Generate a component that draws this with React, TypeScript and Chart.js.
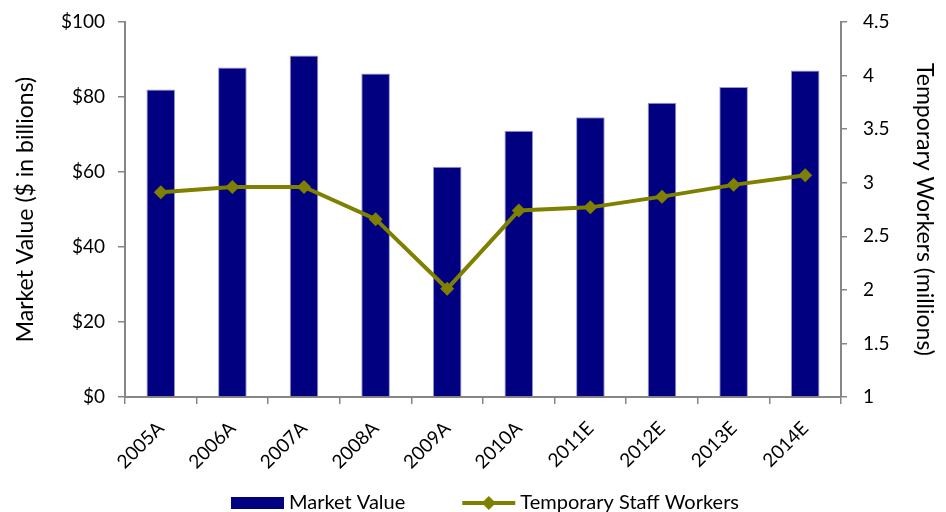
import React, { useEffect, useRef } from "react";
import { Chart, registerables } from "chart.js";

Chart.register(...registerables);

const categories = ["2005A", "2006A", "2007A", "2008A", "2009A", "2010A", "2011E", "2012E", "2013E", "2014E"];
const marketValue = [82.0, 87.9, 91.1, 86.3, 61.4, 71.0, 74.6, 78.5, 82.7, 87.1];
const tempWorkers = [2.91, 2.96, 2.96, 2.66, 2.01, 2.74, 2.77, 2.87, 2.98, 3.07];
const seriesNames = ["Market Value", "Temporary Staff Workers"];

const NAVY = "#000080";
const OLIVE = "#808000";
const AXIS = "#868686";
const FONT = "Lato, 'Open Sans', sans-serif";

const legendPlugin = {
  id: "customLegend",
  afterDraw(chart: any) {
    const ctx = chart.ctx as CanvasRenderingContext2D;
    ctx.save();
    ctx.font = `20px ${FONT}`;
    ctx.textBaseline = "middle";
    ctx.textAlign = "left";
    ctx.fillStyle = "#000";
    const w1 = ctx.measureText(seriesNames[0]).width;
    const w2 = ctx.measureText(seriesNames[1]).width;
    const iconW = 53;
    const gapIconText = 5;
    const gapItems = 57;
    const total = iconW + gapIconText + w1 + gapItems + iconW + gapIconText + w2;
    const cx = 485;
    const cy = 503;
    let x = cx - total / 2;
    ctx.fillStyle = NAVY;
    ctx.fillRect(x, cy - 6, iconW, 12);
    x += iconW + gapIconText;
    ctx.fillStyle = "#000";
    ctx.fillText(seriesNames[0], x, cy);
    x += w1 + gapItems;
    ctx.strokeStyle = OLIVE;
    ctx.lineWidth = 4;
    ctx.beginPath();
    ctx.moveTo(x, cy);
    ctx.lineTo(x + iconW, cy);
    ctx.stroke();
    ctx.fillStyle = OLIVE;
    const dx = x + iconW / 2;
    ctx.beginPath();
    ctx.moveTo(dx, cy - 7);
    ctx.lineTo(dx + 7, cy);
    ctx.lineTo(dx, cy + 7);
    ctx.lineTo(dx - 7, cy);
    ctx.closePath();
    ctx.fill();
    x += iconW + gapIconText;
    ctx.fillStyle = "#000";
    ctx.fillText(seriesNames[1], x, cy);
    ctx.restore();
  },
};

export default function App() {
  const ref = useRef<HTMLCanvasElement>(null);

  useEffect(() => {
    document.body.style.margin = "0";
    const chart = new Chart(ref.current!, {
      type: "bar",
      data: {
        labels: categories,
        datasets: [
          {
            type: "line",
            label: seriesNames[1],
            data: tempWorkers,
            yAxisID: "y1",
            borderColor: OLIVE,
            backgroundColor: OLIVE,
            borderWidth: 4,
            pointStyle: "rectRot",
            pointRadius: 7,
            pointBorderWidth: 0,
            pointBackgroundColor: OLIVE,
            tension: 0,
            order: 0,
          },
          {
            type: "bar",
            label: seriesNames[0],
            data: marketValue,
            yAxisID: "y",
            backgroundColor: NAVY,
            borderColor: "#9a9ad0",
            borderWidth: { top: 1, left: 1, right: 1, bottom: 0 },
            barPercentage: 0.4,
            categoryPercentage: 1,
            order: 1,
          },
        ],
      },
      options: {
        responsive: false,
        animation: false,
        layout: { padding: { top: 22, left: 8, right: 8, bottom: 40 } },
        plugins: {
          tooltip: { enabled: false },
          legend: { display: false },
        },
        scales: {
          x: {
            offset: true,
            grid: {
              offset: true,
              drawOnChartArea: false,
              drawTicks: true,
              tickLength: 7,
              color: AXIS,
              lineWidth: 1.5,
            },
            border: { color: AXIS, width: 2 },
            ticks: {
              color: "#000",
              font: { family: FONT, size: 19 },
              maxRotation: 45,
              minRotation: 45,
              padding: 13,
            },
            afterFit: (s: any) => {
              s.height = 75;
              s.paddingTop = 0;
              s.paddingBottom = 0;
            },
          },
          y: {
            position: "left",
            min: 0,
            max: 100,
            grid: { drawOnChartArea: false, tickLength: 7, color: AXIS, lineWidth: 1.5 },
            border: { color: AXIS, width: 2 },
            ticks: {
              stepSize: 20,
              color: "#000",
              font: { family: FONT, size: 19 },
              padding: 13,
              callback: (v: any) => "$" + v,
            },
            title: {
              display: true,
              text: "Market Value ($ in billions)",
              color: "#000",
              font: { family: FONT, size: 23 },
              padding: { top: 4, bottom: 0 },
            },
            afterFit: (s: any) => {
              s.width = 117;
              s.paddingTop = 0;
              s.paddingBottom = 0;
            },
          },
          y1: {
            position: "right",
            min: 1,
            max: 4.5,
            grid: { drawOnChartArea: false, tickLength: 6, color: AXIS, lineWidth: 1.5 },
            border: { color: AXIS, width: 2 },
            ticks: {
              stepSize: 0.5,
              color: "#000",
              font: { family: FONT, size: 19 },
              padding: 16,
              callback: (v: any) => String(+v),
            },
            title: {
              display: true,
              text: "Temporary Workers (millions)",
              color: "#000",
              font: { family: FONT, size: 23 },
              padding: { top: 0, bottom: 4 },
            },
            afterFit: (s: any) => {
              s.width = 97;
              s.paddingTop = 0;
              s.paddingBottom = 0;
            },
          },
        },
      },
      plugins: [legendPlugin],
    } as any);
    return () => chart.destroy();
  }, []);

  return (
    <div style={{ position: "absolute", left: 0, top: 0, width: 946, height: 512, background: "#fff" }}>
      <canvas ref={ref} width={946} height={512} />
    </div>
  );
}
